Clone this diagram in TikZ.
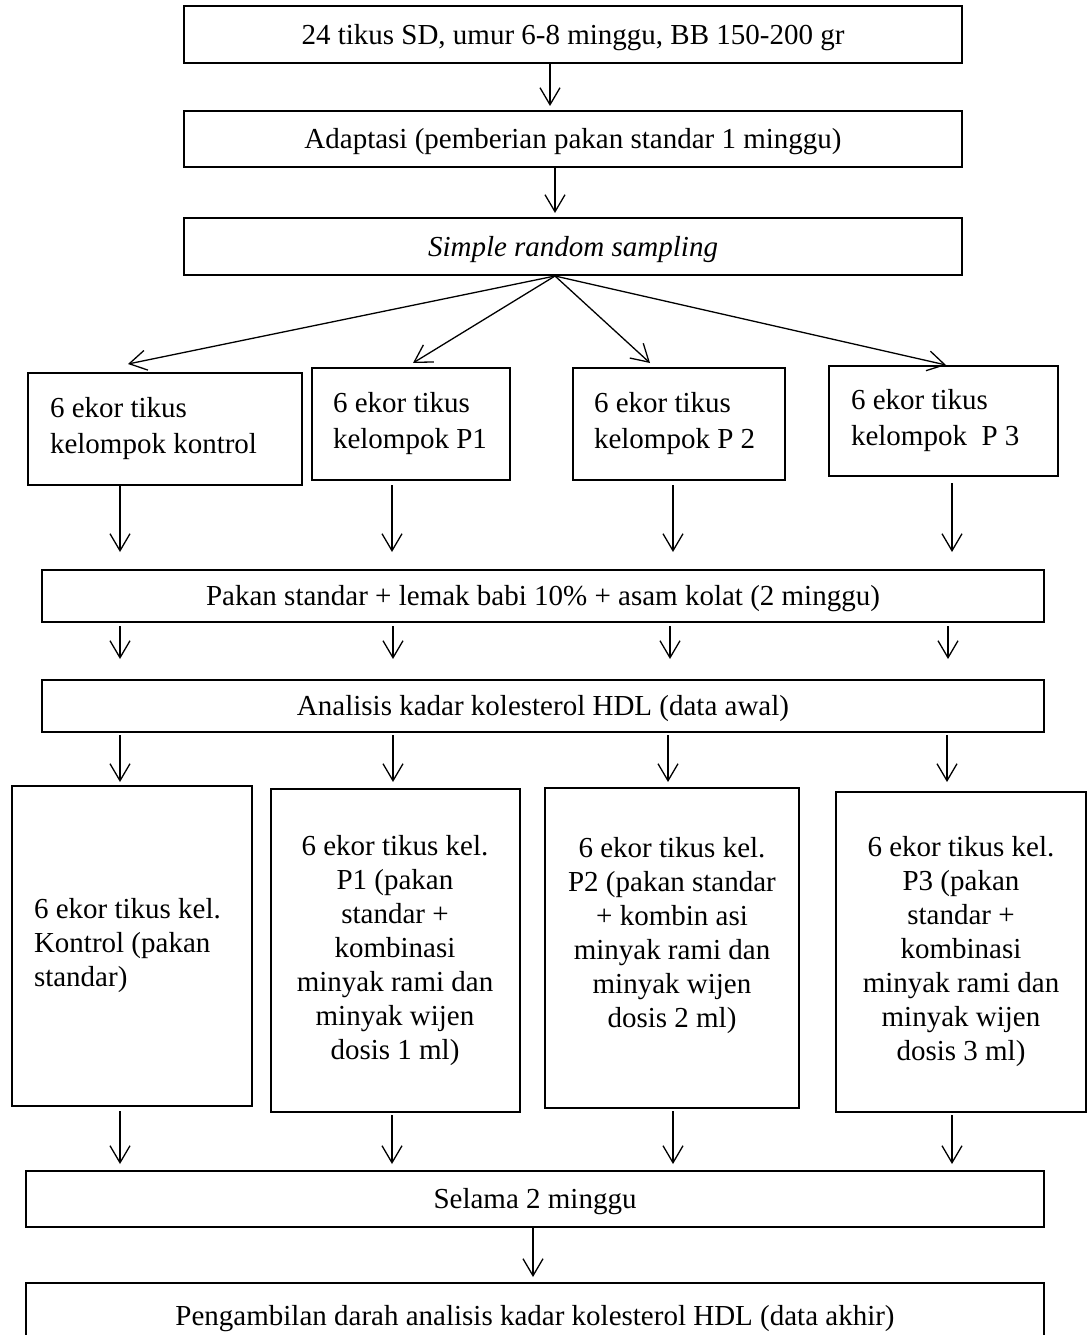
\documentclass[tikz,border=0pt]{standalone}
\usepackage{fontspec}
\setmainfont{Liberation Serif}
\usetikzlibrary{arrows.meta}
\begin{document}
\begin{tikzpicture}[x=1pt,y=-1pt,
  box/.style={draw, line width=2pt, inner sep=0pt, font=\fontsize{29}{35}\selectfont,
    execute at begin node={\spaceskip=0pt\xspaceskip=0pt\relax}},
  wide/.style={box, text height=19.2pt, text depth=0pt},
  grp/.style={box, align=flush left, font=\fontsize{29}{36}\selectfont},
  tall/.style={box, font=\fontsize{29}{34}\selectfont},
  txt/.style={inner sep=0pt, font=\fontsize{29}{34}\selectfont,
    execute at begin node={\spaceskip=0pt\xspaceskip=0pt\relax}},
  arr/.style={-{Straight Barb[length=17pt,width=20pt,line width=1.3pt]}, line width=1.3pt}]
\useasboundingbox (0,0) rectangle (1091,1335);

% top boxes
\node[wide, minimum width=778pt, minimum height=57pt] (b1) at (573,34.5) {24 tikus SD, umur 6-8 minggu, BB 150-200 gr};
\node[wide, minimum width=778pt, minimum height=56pt] (b2) at (573,139) {Adaptasi (pemberian pakan standar 1 minggu)};
\node[wide, minimum width=778pt, minimum height=57pt] (b3) at (573,246.5) {\itshape Simple random sampling};

% group boxes
\node[grp, text width=230pt, inner xsep=22pt, minimum height=112pt] (g1) at (165,429) {6 ekor tikus\\kelompok kontrol};
\node[grp, text width=156pt, inner xsep=21pt, minimum height=112pt] (g2) at (411,424) {6 ekor tikus\\kelompok P1};
\node[grp, text width=170pt, inner xsep=21pt, minimum height=112pt] (g3) at (679,424) {6 ekor tikus\\kelompok P 2};
\node[grp, text width=185pt, inner xsep=22pt, minimum height=110pt] (g4) at (943.5,421) {6 ekor tikus\\kelompok \ P 3};

\node[wide, minimum width=1002pt, minimum height=52pt] (pakan) at (543,596) {Pakan standar + lemak babi 10\% + asam kolat (2 minggu)};
\node[wide, minimum width=1002pt, minimum height=52pt] (anal) at (543,706) {Analisis kadar kolesterol HDL (data awal)};

% treatment boxes
\node[tall, align=flush left, text width=196pt, inner xsep=22pt, minimum height=320pt] (k) at (132,946) {6 ekor tikus kel.\\Kontrol (pakan\\standar)};
\node[tall, align=flush center, text width=229pt, inner xsep=10pt, minimum height=323pt] (p1) at (395,950.5) {6 ekor tikus kel.\\P1 (pakan\\standar +\\kombinasi\\minyak rami dan\\minyak wijen\\dosis 1 ml)};
\node[tall, minimum width=254pt, minimum height=320pt] (p2) at (672,948) {};
\node[txt, align=center] (p2t) at (672,936) {6 ekor tikus kel.\\P2 (pakan standar\\+ kombin asi\\minyak rami dan\\minyak wijen\\dosis 2 ml)};
\node[tall, align=flush center, text width=230pt, inner xsep=10pt, minimum height=320pt] (p3) at (961,952) {6 ekor tikus kel.\\P3 (pakan\\standar +\\kombinasi\\minyak rami dan\\minyak wijen\\dosis 3 ml)};

\node[wide, minimum width=1018pt, minimum height=56pt] (sel) at (535,1199) {Selama 2 minggu};
\node[wide, minimum width=1018pt, minimum height=66pt] (fin) at (535,1316) {Pengambilan darah analisis kadar kolesterol HDL (data akhir)};

% column coordinates
\coordinate (t1) at (550,0);
\coordinate (t2) at (555,0);
\coordinate (t3) at (533,0);
\coordinate (r1) at (120,0);
\coordinate (r2) at (392,0);
\coordinate (r3) at (673,0);
\coordinate (r4) at (952,0);
\coordinate (s1) at (120,0);
\coordinate (s2) at (393,0);
\coordinate (s3) at (670,0);
\coordinate (s4) at (948,0);
\coordinate (u1) at (120,0);
\coordinate (u2) at (393,0);
\coordinate (u3) at (668,0);
\coordinate (u4) at (947,0);
\coordinate (f1) at (128,364);
\coordinate (f2) at (413,363);
\coordinate (f3) at (650,363);
\coordinate (f4) at (946,365);

% connectors
\draw[arr, shorten >=4pt] (b1.south -| t1) -- (b2.north -| t1);
\draw[arr, shorten >=4pt] (b2.south -| t2) -- (b3.north -| t2);
\draw[arr] (b3.south -| t2) -- (f1);
\draw[arr] (b3.south -| t2) -- (f2);
\draw[arr] (b3.south -| t2) -- (f3);
\draw[arr] (b3.south -| t2) -- (f4);

\draw[arr, shorten >=17pt] (g1.south -| r1) -- (pakan.north -| r1);
\draw[arr, shorten <=4pt, shorten >=17pt] (g2.south -| r2) -- (pakan.north -| r2);
\draw[arr, shorten <=4pt, shorten >=17pt] (g3.south -| r3) -- (pakan.north -| r3);
\draw[arr, shorten <=6pt, shorten >=17pt] (g4.south -| r4) -- (pakan.north -| r4);

\draw[arr, shorten <=3pt, shorten >=20pt] (pakan.south -| s1) -- (anal.north -| s1);
\draw[arr, shorten <=3pt, shorten >=20pt] (pakan.south -| s2) -- (anal.north -| s2);
\draw[arr, shorten <=3pt, shorten >=20pt] (pakan.south -| s3) -- (anal.north -| s3);
\draw[arr, shorten <=3pt, shorten >=20pt] (pakan.south -| s4) -- (anal.north -| s4);

\draw[arr, shorten <=2pt, shorten >=3pt] (anal.south -| u1) -- (k.north -| u1);
\draw[arr, shorten <=2pt, shorten >=6pt] (anal.south -| u2) -- (p1.north -| u2);
\draw[arr, shorten <=2pt, shorten >=5pt] (anal.south -| u3) -- (p2.north -| u3);
\draw[arr, shorten <=2pt, shorten >=9pt] (anal.south -| u4) -- (p3.north -| u4);

\draw[arr, shorten <=4pt, shorten >=6pt] (k.south -| r1) -- (sel.north -| r1);
\draw[arr, shorten <=2pt, shorten >=6pt] (p1.south -| r2) -- (sel.north -| r2);
\draw[arr, shorten <=2pt, shorten >=6pt] (p2.south -| r3) -- (sel.north -| r3);
\draw[arr, shorten <=2pt, shorten >=6pt] (p3.south -| r4) -- (sel.north -| r4);

\draw[arr, shorten >=5pt] (sel.south -| t3) -- (fin.north -| t3);
\end{tikzpicture}
\end{document}
